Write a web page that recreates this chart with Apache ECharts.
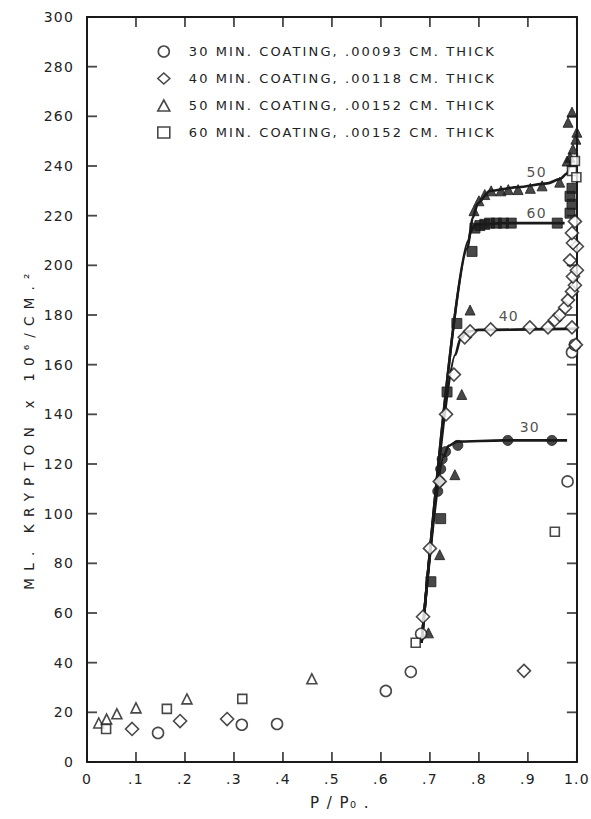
<!DOCTYPE html>
<html>
<head>
<meta charset="utf-8">
<script src="https://cdn.jsdelivr.net/npm/echarts@6/dist/echarts.min.js"></script>
<style>
  html, body { margin: 0; padding: 0; background: #fff; }
  #chart { width: 591px; height: 819px; }
</style>
</head>
<body>
<div id="chart"></div>
<script>
// Krypton adsorption (ml x 10^6 / cm^2) against relative pressure P/Po
// Open symbols: adsorption points; filled symbols: desorption points.

var seriesNames = [
  '30 MIN. COATING, .00093 CM. THICK',
  '40 MIN. COATING, .00118 CM. THICK',
  '50 MIN. COATING, .00152 CM. THICK',
  '60 MIN. COATING, .00152 CM. THICK'
];

var xTicks = [0, 0.1, 0.2, 0.3, 0.4, 0.5, 0.6, 0.7, 0.8, 0.9, 1.0];
var yTicks = [0, 20, 40, 60, 80, 100, 120, 140, 160, 180, 200, 220, 240, 260, 280, 300];

// 30 min coating
var circleOpen = [[0.145, 11.7], [0.316, 15], [0.388, 15.3], [0.610, 28.6], [0.661, 36.3],
  [0.682, 51.6], [0.981, 113], [0.990, 165], [0.996, 168]];
var circleFilled = [[0.716, 109], [0.720, 113], [0.722, 118], [0.725, 122], [0.732, 125],
  [0.757, 127.5], [0.859, 129.5], [0.949, 129.5]];

// 40 min coating
var diamondOpen = [[0.092, 13.3], [0.190, 16.5], [0.286, 17.3], [0.892, 36.7],
  [0.686, 58.5], [0.700, 86], [0.720, 113], [0.733, 140], [0.749, 156], [0.771, 171],
  [0.782, 173.4], [0.824, 174.2], [0.904, 175], [0.941, 175], [0.990, 175],
  [0.955, 178], [0.965, 180], [0.976, 183], [0.982, 186], [0.990, 189.5], [0.996, 192],
  [0.992, 195.5], [1.0, 198], [0.986, 202], [1.0, 207.6], [0.992, 209], [0.990, 213],
  [0.996, 217.7], [0.998, 168]];

// 50 min coating
var triangleOpen = [[0.024, 15.7], [0.040, 17.3], [0.061, 19.4], [0.100, 21.8],
  [0.204, 25.4], [0.459, 33.5]];
var triangleFilled = [[0.697, 52], [0.720, 83.5], [0.751, 115.7], [0.765, 148], [0.782, 182],
  [0.790, 222], [0.800, 226], [0.812, 228.5], [0.825, 230], [0.845, 230], [0.860, 230.5],
  [0.880, 230.5], [0.905, 231], [0.929, 232], [0.965, 233.5], [0.980, 242], [0.986, 243.5],
  [0.992, 246.8], [0.998, 250.8], [1.0, 253.6], [0.982, 257.6], [0.990, 261.7]];

// 60 min coating
var squareOpen = [[0.039, 13.3], [0.163, 21.4], [0.317, 25.4], [0.671, 48], [0.955, 92.7],
  [0.996, 242], [0.990, 238], [0.999, 235.5]];
var squareFilled = [[0.702, 72.6], [0.722, 98], [0.735, 149], [0.755, 176.6], [0.786, 205.6],
  [0.792, 215], [0.802, 216], [0.812, 216.5], [0.822, 217], [0.836, 217], [0.850, 217],
  [0.866, 217], [0.960, 217], [0.986, 221], [0.990, 224.6], [0.986, 227.8], [0.990, 231]];

// drawn isotherm curves
var curve30 = [[0.683, 48], [0.728, 123], [0.738, 127.3], [0.755, 129], [0.850, 129.5],
  [0.980, 129.5]];
var curve40 = [[0.683, 48], [0.752, 164], [0.762, 170.3], [0.776, 173.3], [0.800, 174],
  [1.0, 174.5]];
var curve50 = [[0.683, 48], [0.779, 210], [0.787, 219], [0.798, 225], [0.822, 230],
  [0.880, 231.5], [0.940, 233], [0.965, 234.7], [0.980, 237], [0.988, 242]];
var curve60 = [[0.683, 48], [0.777, 207], [0.783, 213.5], [0.792, 216.3], [0.850, 217],
  [0.975, 217]];

// curve tags
var curveTags = [['50', 0.918, 237.5], ['60', 0.918, 221], ['40', 0.861, 179.5], ['30', 0.904, 135]];

var FONT = '"DejaVu Sans", sans-serif';
var INK = '#1a1a1a';
var TICK_LEN = 10;
var TICK_W = 1.8;
var openStyle = { color: '#fff', borderColor: INK, borderWidth: 1.6 };
var filledStyle = { color: INK, borderColor: INK, borderWidth: 1 };

var X_MIN = xTicks[0], X_MAX = xTicks[xTicks.length - 1];
var Y_MIN = yTicks[0], Y_MAX = yTicks[yTicks.length - 1];

function pointSeries(name, data, symbol, size, style, z) {
  return {
    type: 'scatter', name: name, data: data, symbol: symbol, symbolSize: size,
    itemStyle: style, z: z, silent: true
  };
}
function curveSeries(data) {
  return {
    type: 'line', data: data, showSymbol: false, smooth: 0.25, smoothMonotone: 'x',
    lineStyle: { color: INK, width: 2.6 }, z: 2, silent: true
  };
}
// inward tick marks along one frame edge: thin bars anchored on the edge
function tickMarks(data, size, offset) {
  return {
    type: 'scatter', silent: true, clip: false, z: 6,
    data: data, symbol: 'rect', symbolSize: size, symbolOffset: offset,
    itemStyle: { color: INK, borderWidth: 0 }
  };
}
function frameAxis(extra) {
  var base = {
    type: 'value',
    axisLine: { show: true, onZero: false, lineStyle: { color: INK, width: 2 } },
    axisTick: { show: false },
    splitLine: { show: false }
  };
  for (var k in extra) base[k] = extra[k];
  return base;
}

var chart = echarts.init(document.getElementById('chart'), null, { renderer: 'svg' });

chart.setOption({
  animation: false,
  backgroundColor: '#fff',
  grid: { left: 87, right: 12, top: 17, bottom: 57 },
  legend: {
    orient: 'vertical', left: 152, top: 40, itemGap: 14, itemWidth: 12, itemHeight: 11,
    textStyle: { fontFamily: FONT, fontSize: 13, color: '#222', padding: [0, 0, 0, 14] },
    selectedMode: false,
    data: [
      { name: seriesNames[0], icon: 'circle', itemStyle: openStyle },
      { name: seriesNames[1], icon: 'diamond', itemStyle: openStyle },
      { name: seriesNames[2], icon: 'triangle', itemStyle: openStyle },
      { name: seriesNames[3], icon: 'rect', itemStyle: openStyle }
    ]
  },
  xAxis: [frameAxis({
    position: 'bottom', min: X_MIN, max: X_MAX, interval: 0.1,
    axisLabel: {
      fontFamily: FONT, fontSize: 14, color: '#222', margin: 10,
      formatter: function (v) {
        if (v === 0) return '0';
        if (Math.abs(v - 1) < 1e-6) return '1.0';
        return '.' + Math.round(v * 10);
      }
    }
  }), frameAxis({
    position: 'top', min: X_MIN, max: X_MAX, interval: 0.1, axisLabel: { show: false }
  })],
  yAxis: [frameAxis({
    position: 'left', min: Y_MIN, max: Y_MAX, interval: 20,
    axisLabel: { fontFamily: FONT, fontSize: 14, color: '#222', margin: 13 }
  }), frameAxis({
    position: 'right', min: Y_MIN, max: Y_MAX, interval: 20, axisLabel: { show: false }
  })],
  graphic: [{
    type: 'text', x: 29, y: 428, rotation: Math.PI / 2,
    style: { text: 'ML. KRYPTON x 10⁶/CM.²', font: '13.5px ' + FONT, fill: '#222',
      align: 'center', verticalAlign: 'middle' }
  }, {
    type: 'text', x: 340, y: 803,
    style: { text: 'P / P₀ .', font: '15px ' + FONT, fill: '#222',
      align: 'center', verticalAlign: 'middle' }
  }],
  series: [
    tickMarks(xTicks.map(function (v) { return [v, Y_MIN]; }), [TICK_W, TICK_LEN], [0, -TICK_LEN / 2]),
    tickMarks(xTicks.map(function (v) { return [v, Y_MAX]; }), [TICK_W, TICK_LEN], [0, TICK_LEN / 2]),
    tickMarks(yTicks.map(function (v) { return [X_MIN, v]; }), [TICK_LEN, TICK_W], [TICK_LEN / 2, 0]),
    tickMarks(yTicks.map(function (v) { return [X_MAX, v]; }), [TICK_LEN, TICK_W], [-TICK_LEN / 2, 0]),
    curveSeries(curve30), curveSeries(curve40), curveSeries(curve50), curveSeries(curve60),
    pointSeries(seriesNames[0], circleOpen, 'circle', 11, openStyle, 4),
    pointSeries(seriesNames[1], diamondOpen, 'diamond', 13, openStyle, 4),
    pointSeries(seriesNames[2], triangleOpen, 'triangle', 10, openStyle, 4),
    pointSeries(seriesNames[3], squareOpen, 'rect', 9, openStyle, 4),
    pointSeries(seriesNames[0], circleFilled, 'circle', 10, filledStyle, 3),
    pointSeries(seriesNames[2], triangleFilled, 'triangle', 10, filledStyle, 3),
    pointSeries(seriesNames[3], squareFilled, 'rect', 10, filledStyle, 3),
    {
      type: 'scatter', silent: true, symbolSize: 0, z: 5,
      data: curveTags.map(function (t) { return { value: [t[1], t[2]], name: t[0] }; }),
      label: {
        show: true, position: 'inside', formatter: '{b}',
        fontFamily: FONT, fontSize: 14, color: '#222'
      }
    }
  ]
});

// Wide, typewriter-like letter spacing for the lettering of the plate
function spaceLetters() {
  var texts = document.querySelectorAll('#chart svg text');
  texts.forEach(function (t) {
    var s = t.textContent || '';
    var ls = 1.2;
    if (s.indexOf('KRYPTON') >= 0) ls = 7.2;
    else if (s.indexOf('COATING') >= 0) ls = 2.1;
    else if (s.indexOf('P₀') >= 0) ls = 1.5;
    t.style.letterSpacing = ls + 'px';
  });
}
spaceLetters();
chart.on('finished', spaceLetters);
</script>
</body>
</html>
